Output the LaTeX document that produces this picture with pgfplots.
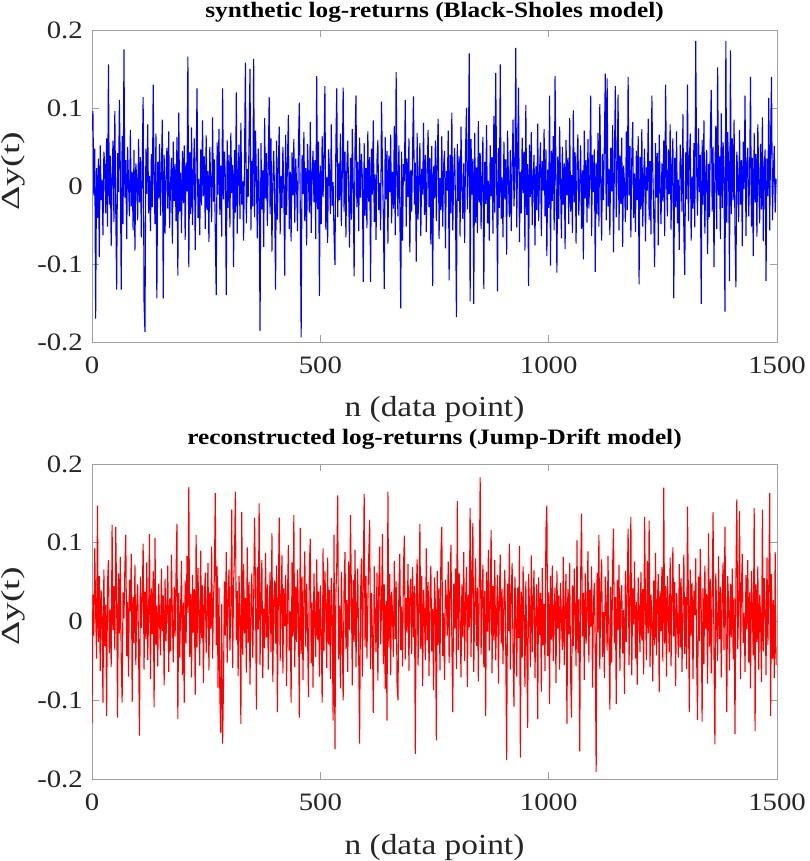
\documentclass[border=0pt]{standalone}
\usepackage{fontspec}
\setmainfont{Liberation Serif}[FakeStretch=1.15]
\newfontfamily\ylabfont{Liberation Serif}[FakeStretch=1.45]
\usepackage{pgfplots}
\usepackage{pgfplotstable}
\pgfplotsset{compat=1.18}
\definecolor{axgray}{RGB}{160,160,160}
\definecolor{txt}{RGB}{38,38,38}

% synthetic log-returns, n = 0,2,4,...,1498
\pgfplotstableread[row sep=crcr, header=false]{
0.071\\0.096\\-0.012\\0.048\\-0.170\\0.023\\-0.041\\0.035\\-0.091\\0.052\\-0.018\\0.008\\-0.063\\0.044\\0.027\\-0.035\\0.061\\-0.052\\0.156\\-0.024\\0.039\\-0.077\\0.015\\0.058\\-0.046\\
0.096\\-0.030\\-0.133\\0.042\\-0.008\\0.110\\0.021\\-0.133\\0.064\\-0.049\\0.175\\-0.015\\0.033\\-0.068\\0.050\\0.004\\-0.039\\0.072\\-0.026\\0.018\\-0.057\\0.046\\-0.083\\0.029\\0.009\\
-0.044\\0.060\\-0.021\\0.037\\-0.066\\0.025\\0.114\\-0.152\\-0.187\\0.048\\-0.010\\0.079\\-0.035\\0.013\\-0.058\\0.041\\-0.027\\0.130\\0.006\\-0.049\\0.067\\-0.144\\0.031\\-0.016\\0.054\\
-0.038\\0.022\\0.085\\-0.144\\0.040\\-0.061\\0.011\\0.049\\-0.029\\0.070\\-0.054\\0.003\\0.036\\-0.074\\0.057\\-0.019\\0.028\\-0.045\\0.063\\-0.115\\0.094\\-0.033\\0.017\\-0.060\\0.045\\
-0.022\\0.052\\-0.069\\0.030\\-0.007\\0.166\\-0.104\\0.043\\-0.036\\0.075\\-0.050\\0.014\\0.061\\-0.082\\0.024\\0.125\\-0.041\\0.009\\-0.063\\0.047\\-0.025\\0.084\\-0.013\\0.038\\-0.055\\
0.065\\-0.031\\0.019\\-0.072\\0.050\\0.002\\-0.046\\0.088\\-0.020\\0.034\\-0.059\\-0.140\\0.056\\-0.011\\0.073\\-0.037\\0.026\\-0.065\\0.125\\-0.017\\0.044\\0.010\\-0.140\\0.059\\-0.028\\
0.040\\-0.053\\0.068\\-0.009\\0.027\\-0.104\\0.046\\-0.034\\0.120\\-0.061\\0.015\\0.053\\-0.042\\0.081\\-0.024\\0.006\\-0.070\\0.039\\0.158\\-0.048\\0.022\\-0.014\\0.064\\0.150\\-0.057\\
0.032\\-0.026\\0.163\\-0.040\\0.071\\0.012\\-0.067\\0.048\\-0.005\\-0.186\\0.055\\-0.030\\0.020\\-0.078\\0.087\\-0.016\\0.042\\-0.051\\0.028\\0.114\\-0.036\\0.061\\-0.084\\0.008\\0.045\\
-0.019\\-0.133\\0.058\\-0.043\\0.025\\0.076\\-0.062\\0.013\\-0.028\\0.050\\-0.004\\-0.115\\0.066\\-0.037\\0.031\\0.091\\-0.055\\0.018\\-0.071\\0.043\\-0.012\\0.060\\-0.047\\0.035\\0.003\\
-0.058\\0.049\\0.107\\-0.025\\-0.194\\0.040\\-0.010\\0.069\\-0.045\\0.023\\-0.076\\0.054\\0.007\\-0.034\\0.082\\-0.060\\0.016\\0.045\\-0.021\\0.033\\-0.068\\0.141\\-0.030\\0.057\\-0.141\\
0.026\\-0.049\\0.064\\-0.014\\0.038\\0.128\\-0.056\\0.011\\-0.073\\0.047\\0.020\\-0.036\\0.079\\-0.025\\0.005\\-0.062\\-0.101\\0.052\\0.125\\-0.040\\0.029\\-0.018\\0.067\\-0.051\\0.014\\
0.126\\-0.033\\0.044\\-0.066\\0.021\\0.058\\-0.009\\-0.079\\0.036\\-0.043\\0.073\\0.002\\-0.116\\0.050\\0.116\\-0.027\\0.031\\-0.058\\0.062\\-0.015\\0.041\\0.010\\-0.123\\0.055\\-0.038\\
0.023\\-0.054\\0.070\\-0.020\\0.037\\-0.123\\0.048\\-0.011\\0.084\\-0.046\\0.015\\-0.069\\0.032\\0.059\\-0.031\\0.004\\-0.057\\0.108\\0.026\\-0.041\\-0.132\\0.063\\-0.017\\0.045\\-0.074\\
0.039\\-0.008\\0.066\\-0.048\\0.018\\-0.029\\0.077\\-0.063\\0.146\\0.012\\-0.039\\0.052\\-0.022\\-0.157\\0.044\\-0.070\\0.028\\0.006\\0.110\\-0.052\\0.035\\-0.014\\0.061\\-0.085\\0.020\\
-0.033\\0.047\\0.115\\-0.024\\0.030\\-0.097\\0.068\\-0.043\\0.009\\0.055\\-0.064\\0.022\\-0.011\\0.081\\-0.037\\0.040\\-0.059\\0.016\\0.072\\-0.027\\0.036\\-0.075\\0.051\\-0.128\\0.025\\
-0.016\\0.058\\-0.045\\0.033\\0.086\\-0.068\\0.010\\-0.031\\0.064\\-0.052\\0.027\\0.045\\-0.080\\0.019\\-0.006\\0.071\\-0.121\\0.040\\-0.035\\0.094\\-0.057\\0.013\\0.049\\-0.024\\-0.168\\
0.054\\-0.019\\0.038\\-0.065\\0.076\\0.001\\-0.042\\0.029\\-0.073\\0.046\\0.100\\-0.030\\0.017\\0.170\\-0.148\\0.060\\-0.011\\0.035\\-0.151\\0.068\\-0.047\\0.024\\-0.060\\0.083\\-0.021\\
0.042\\-0.055\\0.015\\0.063\\-0.132\\0.031\\-0.023\\0.078\\-0.048\\0.007\\-0.070\\0.052\\-0.013\\0.037\\-0.061\\0.090\\-0.034\\0.145\\0.020\\-0.135\\0.049\\-0.028\\0.156\\-0.042\\0.011\\
-0.066\\0.057\\-0.017\\0.034\\-0.088\\0.071\\0.004\\-0.040\\0.046\\-0.058\\0.023\\0.085\\-0.026\\0.012\\0.177\\-0.053\\0.039\\0.126\\-0.072\\0.018\\-0.035\\0.062\\-0.009\\0.044\\-0.083\\
0.104\\-0.037\\0.028\\-0.128\\0.053\\-0.014\\0.069\\-0.050\\0.008\\0.040\\-0.076\\0.025\\-0.031\\0.080\\-0.045\\0.017\\0.056\\-0.064\\0.032\\-0.006\\0.073\\-0.039\\0.047\\-0.090\\0.021\\
-0.028\\0.116\\-0.102\\0.045\\-0.019\\0.064\\-0.057\\0.141\\0.010\\-0.111\\0.038\\-0.042\\0.076\\0.002\\-0.067\\0.050\\-0.024\\0.029\\-0.081\\0.059\\-0.012\\0.036\\-0.049\\0.087\\-0.033\\
0.014\\-0.060\\0.097\\-0.021\\0.043\\-0.074\\0.027\\0.066\\-0.038\\0.005\\0.052\\-0.055\\0.020\\-0.094\\0.071\\-0.016\\0.033\\-0.047\\0.060\\-0.029\\0.011\\0.116\\-0.064\\0.040\\-0.008\\
0.047\\-0.110\\0.030\\-0.036\\0.068\\-0.052\\0.105\\0.009\\-0.070\\0.041\\-0.018\\0.056\\0.144\\-0.044\\0.138\\-0.026\\0.022\\-0.063\\0.049\\-0.007\\0.078\\-0.085\\0.034\\0.128\\-0.040\\
0.018\\0.117\\-0.057\\0.039\\-0.023\\0.062\\-0.078\\0.026\\0.004\\-0.046\\0.070\\-0.031\\0.140\\-0.012\\0.051\\-0.066\\0.035\\0.082\\-0.041\\0.016\\-0.059\\0.045\\-0.018\\0.064\\-0.126\\
0.037\\-0.030\\0.073\\-0.052\\0.011\\0.048\\-0.071\\0.024\\-0.006\\0.086\\-0.043\\0.032\\-0.062\\0.116\\0.019\\-0.035\\-0.104\\0.055\\-0.015\\0.042\\-0.076\\0.066\\0.003\\-0.049\\0.029\\
-0.020\\0.058\\-0.064\\0.130\\0.014\\-0.039\\0.047\\-0.010\\0.079\\-0.056\\0.025\\0.061\\-0.144\\0.036\\-0.027\\0.070\\-0.048\\0.008\\-0.082\\0.053\\0.021\\-0.033\\0.092\\-0.060\\-0.114\\
0.043\\-0.017\\0.130\\-0.045\\0.031\\0.067\\-0.070\\0.012\\-0.029\\0.055\\-0.053\\0.186\\0.022\\-0.038\\0.074\\-0.008\\0.040\\-0.151\\0.059\\-0.024\\0.084\\-0.061\\0.017\\0.046\\-0.087\\
0.028\\-0.040\\0.065\\0.123\\-0.033\\0.050\\-0.104\\0.019\\0.077\\-0.055\\0.152\\-0.012\\0.038\\-0.068\\0.093\\-0.028\\0.056\\0.006\\-0.161\\0.186\\-0.047\\0.069\\0.024\\-0.122\\0.174\\
-0.036\\0.061\\-0.018\\0.085\\-0.059\\-0.130\\0.044\\0.013\\-0.046\\0.072\\-0.024\\0.033\\-0.077\\0.057\\-0.004\\0.116\\-0.064\\0.027\\0.049\\-0.039\\0.010\\0.140\\-0.052\\0.036\\-0.090\\
0.068\\-0.021\\0.041\\-0.065\\0.079\\0.005\\-0.048\\0.054\\-0.030\\0.088\\-0.071\\0.023\\0.047\\-0.122\\0.035\\-0.013\\0.113\\-0.057\\0.062\\0.140\\-0.044\\0.016\\0.051\\-0.034\\0.009\\
}\topdata

% reconstructed log-returns, n = 0,2,4,...,1498
\pgfplotstableread[row sep=crcr, header=false]{
-0.129\\0.034\\-0.018\\0.093\\0.012\\-0.047\\0.147\\-0.026\\0.058\\-0.063\\0.040\\0.007\\-0.103\\0.066\\-0.031\\0.021\\-0.120\\0.049\\0.078\\-0.040\\0.015\\-0.058\\0.123\\-0.011\\0.045\\
-0.036\\0.120\\0.028\\-0.122\\0.061\\-0.015\\0.082\\-0.050\\-0.103\\0.037\\0.004\\0.069\\0.110\\-0.044\\0.025\\-0.070\\0.053\\0.013\\0.086\\-0.102\\0.031\\-0.027\\0.072\\-0.055\\0.019\\
0.047\\-0.034\\-0.145\\0.057\\-0.008\\0.026\\0.099\\-0.061\\0.038\\-0.022\\0.075\\-0.049\\0.010\\0.111\\-0.073\\0.042\\-0.016\\0.064\\-0.109\\0.106\\-0.030\\0.020\\-0.057\\0.048\\0.001\\
-0.043\\0.067\\-0.012\\0.033\\-0.081\\0.054\\-0.025\\0.018\\0.071\\-0.064\\0.029\\-0.038\\0.085\\0.006\\-0.052\\0.044\\-0.019\\0.060\\0.124\\-0.124\\0.036\\-0.046\\0.014\\0.077\\-0.068\\
0.024\\-0.103\\0.052\\-0.028\\0.083\\0.011\\0.171\\-0.045\\0.035\\-0.071\\0.059\\-0.014\\0.041\\-0.093\\0.110\\-0.033\\0.068\\0.003\\-0.056\\0.090\\-0.021\\0.046\\-0.078\\0.027\\0.062\\
-0.040\\0.015\\0.074\\-0.062\\0.037\\-0.009\\0.095\\-0.047\\0.028\\0.056\\0.163\\-0.030\\0.070\\-0.084\\0.043\\-0.096\\-0.141\\0.022\\-0.155\\-0.077\\0.051\\-0.018\\0.088\\-0.053\\0.032\\
0.066\\-0.037\\0.014\\0.142\\-0.059\\0.048\\0.081\\0.165\\-0.024\\0.039\\-0.069\\0.058\\0.007\\-0.130\\0.139\\-0.042\\0.073\\-0.015\\0.030\\-0.065\\0.094\\-0.027\\0.050\\-0.080\\0.019\\
0.061\\-0.046\\0.025\\0.132\\0.040\\-0.112\\0.069\\-0.010\\0.150\\-0.055\\0.033\\0.078\\-0.072\\0.016\\-0.034\\0.087\\-0.020\\0.047\\-0.061\\0.009\\0.063\\-0.039\\0.112\\-0.077\\0.026\\
0.052\\-0.028\\0.071\\-0.115\\0.035\\0.132\\-0.050\\0.018\\0.084\\-0.066\\0.042\\-0.006\\0.059\\-0.082\\0.028\\0.097\\-0.037\\0.013\\-0.103\\0.075\\-0.019\\0.135\\-0.058\\0.044\\-0.026\\
0.066\\0.011\\-0.122\\0.119\\-0.041\\0.057\\-0.074\\0.030\\0.089\\-0.032\\0.048\\-0.015\\-0.096\\0.072\\0.105\\-0.053\\0.024\\-0.084\\0.061\\0.002\\-0.045\\0.079\\-0.023\\0.038\\-0.070\\
0.046\\-0.013\\-0.103\\0.093\\-0.037\\0.064\\0.017\\-0.059\\0.081\\-0.029\\0.040\\-0.073\\0.055\\0.008\\-0.126\\0.110\\-0.162\\0.034\\0.072\\0.160\\-0.048\\0.020\\-0.085\\0.063\\-0.017\\
-0.100\\0.045\\0.088\\-0.035\\0.027\\-0.064\\0.076\\-0.011\\0.135\\0.039\\-0.081\\0.053\\-0.026\\0.091\\-0.058\\0.014\\0.067\\-0.043\\-0.155\\0.031\\0.080\\-0.070\\0.049\\0.162\\-0.032\\
0.058\\-0.047\\0.022\\0.083\\0.129\\-0.060\\0.036\\-0.017\\-0.116\\0.070\\0.005\\-0.039\\0.062\\-0.075\\0.044\\0.095\\-0.029\\0.018\\0.111\\-0.054\\0.047\\-0.086\\0.026\\-0.126\\0.165\\
-0.033\\0.060\\-0.068\\0.038\\0.012\\-0.045\\0.077\\-0.022\\0.051\\-0.079\\-0.100\\0.041\\0.086\\-0.036\\0.019\\-0.057\\0.066\\0.109\\-0.048\\0.030\\-0.014\\0.073\\-0.063\\0.035\\0.054\\
-0.041\\0.069\\-0.020\\0.045\\-0.168\\0.032\\0.079\\-0.056\\0.013\\0.124\\-0.035\\0.058\\-0.082\\0.040\\0.007\\-0.049\\0.093\\-0.024\\0.050\\-0.069\\0.027\\0.071\\-0.038\\0.016\\-0.087\\
0.056\\0.021\\-0.151\\0.064\\-0.030\\0.042\\-0.062\\0.085\\0.120\\-0.044\\0.011\\-0.074\\0.053\\0.029\\-0.018\\0.076\\-0.053\\0.037\\0.097\\-0.027\\-0.115\\0.048\\-0.009\\0.067\\-0.060\\
0.153\\-0.036\\0.061\\0.010\\-0.071\\0.047\\-0.020\\0.088\\-0.050\\0.026\\0.069\\-0.083\\0.034\\-0.007\\0.144\\-0.045\\0.058\\0.125\\-0.064\\0.018\\0.080\\-0.031\\0.043\\-0.076\\0.052\\
0.183\\-0.042\\0.024\\0.072\\-0.058\\0.039\\-0.120\\0.063\\-0.013\\0.091\\-0.037\\0.017\\0.116\\-0.066\\0.045\\-0.024\\0.078\\-0.049\\0.006\\0.059\\-0.079\\0.032\\0.085\\-0.028\\0.041\\
-0.054\\0.027\\0.066\\-0.034\\-0.176\\0.048\\-0.012\\0.099\\-0.061\\0.033\\0.074\\-0.041\\-0.108\\0.057\\0.015\\-0.070\\0.043\\-0.021\\0.096\\-0.173\\0.038\\-0.046\\0.070\\0.004\\-0.083\\
0.051\\-0.025\\-0.135\\0.060\\0.019\\-0.058\\0.084\\-0.039\\0.030\\0.065\\-0.072\\0.011\\0.047\\-0.124\\0.056\\-0.017\\0.036\\-0.089\\0.068\\-0.030\\0.022\\-0.063\\0.116\\0.147\\-0.044\\
0.037\\-0.105\\0.058\\-0.023\\0.071\\-0.050\\0.016\\0.043\\-0.078\\0.064\\-0.009\\0.033\\-0.061\\0.049\\0.002\\-0.036\\0.082\\-0.055\\0.025\\0.060\\-0.130\\0.041\\-0.016\\0.074\\-0.066\\
-0.122\\0.046\\-0.031\\0.067\\0.010\\-0.057\\0.103\\-0.040\\0.028\\-0.165\\0.055\\0.137\\-0.019\\0.036\\-0.074\\0.061\\-0.028\\0.017\\0.089\\-0.052\\0.040\\-0.007\\0.070\\-0.084\\0.023\\
0.049\\-0.033\\-0.191\\0.062\\-0.014\\0.110\\-0.060\\0.035\\0.079\\-0.045\\0.012\\-0.072\\0.057\\0.024\\-0.037\\0.083\\-0.021\\-0.112\\0.044\\-0.052\\0.068\\0.118\\-0.027\\0.031\\-0.105\\
0.053\\-0.011\\0.072\\-0.063\\0.029\\0.046\\-0.040\\0.015\\-0.092\\0.064\\-0.026\\0.038\\0.118\\-0.055\\0.021\\0.133\\-0.068\\0.042\\-0.004\\0.076\\-0.047\\0.025\\-0.080\\0.056\\0.013\\
-0.039\\0.063\\-0.024\\0.041\\-0.067\\0.133\\0.018\\-0.049\\0.077\\-0.015\\0.128\\-0.058\\0.034\\0.006\\-0.076\\0.052\\-0.030\\0.087\\-0.043\\0.021\\0.060\\-0.090\\0.039\\-0.012\\0.069\\
-0.051\\0.170\\-0.028\\0.045\\-0.070\\0.058\\0.013\\-0.039\\0.081\\-0.057\\0.027\\0.094\\-0.019\\0.050\\-0.082\\0.036\\0.002\\-0.046\\0.073\\-0.033\\0.055\\-0.064\\0.020\\0.085\\-0.041\\
0.031\\-0.060\\0.146\\0.024\\-0.115\\0.066\\-0.018\\0.049\\-0.073\\0.039\\0.008\\0.080\\-0.044\\-0.125\\0.057\\-0.025\\0.092\\0.015\\-0.127\\0.042\\-0.054\\0.071\\-0.009\\0.035\\-0.079\\
0.112\\-0.032\\0.054\\-0.066\\0.027\\0.139\\-0.041\\-0.156\\0.061\\0.010\\-0.050\\0.083\\-0.022\\0.044\\-0.071\\0.033\\0.075\\-0.036\\0.120\\-0.014\\-0.115\\0.058\\0.023\\-0.062\\0.048\\
-0.020\\0.067\\-0.048\\0.030\\-0.143\\0.052\\0.155\\-0.035\\0.019\\0.140\\-0.073\\0.042\\0.086\\-0.027\\0.011\\-0.064\\0.059\\-0.010\\0.078\\-0.052\\0.037\\-0.085\\0.064\\0.016\\-0.043\\
0.144\\-0.139\\0.047\\-0.026\\0.070\\-0.061\\0.034\\0.008\\-0.077\\0.142\\-0.038\\0.055\\0.021\\-0.068\\0.081\\-0.030\\0.045\\0.163\\-0.120\\0.060\\-0.047\\0.027\\-0.072\\0.088\\-0.055\\
}\botdata

\pgfplotsset{
  myax/.style={
    scale only axis, width=685pt,
    xmin=0, xmax=1500, ymin=-0.2, ymax=0.2,
    xtick={0,500,1000,1500}, xticklabels={0,500,1000,1500},
    ytick={-0.2,-0.1,0,0.1,0.2}, yticklabels={-0.2,-0.1,0,0.1,0.2},
    axis line style={axgray, line width=0.7pt},
    tick style={axgray, line width=0.7pt},
    major tick length=7pt, tick align=inside, tick pos=both,
    ticklabel style={font=\fontsize{25}{25}\selectfont, text=txt, inner sep=0pt},
    xticklabel style={anchor=north, yshift=-15pt},
    yticklabel style={anchor=east, xshift=-9pt},
    title style={font=\bfseries\fontsize{22}{22}\selectfont, text=black,
      at={(axis description cs:0.5,1)}, anchor=base, inner sep=0pt},
    xlabel style={font=\fontsize{29}{29}\selectfont, text=txt,
      at={(axis description cs:0.5,0)}, anchor=base, yshift=-75pt, inner sep=0pt},
    ylabel style={font=\ylabfont\fontsize{26}{26}\selectfont, text=txt,
      at={([xshift=-79pt,yshift=15pt]axis description cs:0,0.5)}, anchor=center, inner sep=0pt},
  }
}

\begin{document}
\begin{tikzpicture}
\useasboundingbox (0,0) rectangle (809pt,861pt);
\begin{axis}[myax, at={(92pt,519pt)}, anchor=south west, height=312pt,
  title style={yshift=6pt},
  title={synthetic log-returns (Black-Sholes model)},
  xlabel={n (data point)}, ylabel={Δy(t)}]
\addplot[color={rgb,255:red,0;green,0;blue,255}, line width=1.1pt] table[x expr=\coordindex*2, y index=0] {\topdata};
\end{axis}
\begin{axis}[myax, at={(92pt,82pt)}, anchor=south west, height=315pt,
  title style={yshift=13pt},
  title={reconstructed log-returns (Jump-Drift model)},
  xlabel={n (data point)}, ylabel={Δy(t)}]
\addplot[color={rgb,255:red,255;green,0;blue,0}, line width=1.1pt] table[x expr=\coordindex*2, y index=0] {\botdata};
\end{axis}
\end{tikzpicture}
\end{document}
